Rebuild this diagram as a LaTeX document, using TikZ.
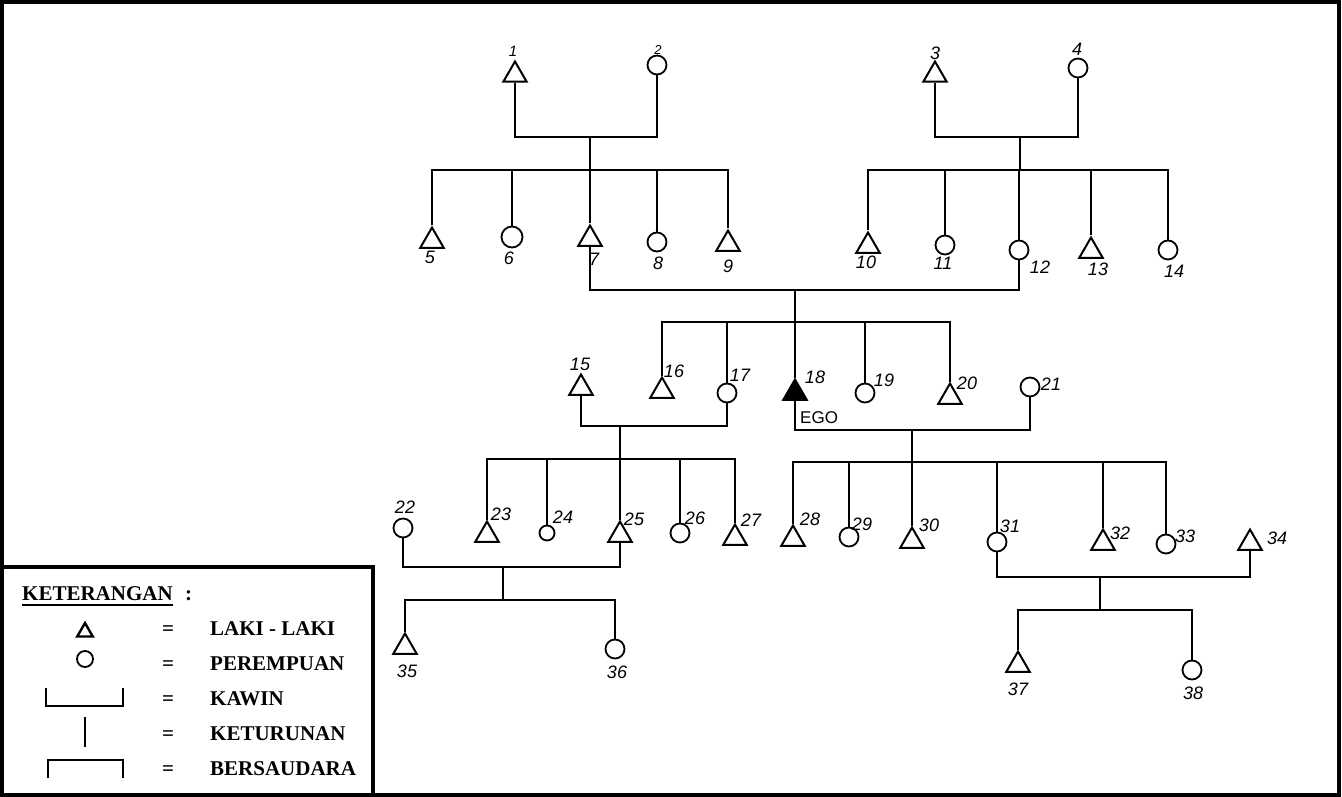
\documentclass[tikz,border=0pt]{standalone}
\usepackage{fontspec}
\setmainfont{Liberation Serif}
\newfontfamily\handfont{Liberation Sans}
\usetikzlibrary{shapes.geometric}
\begin{document}
\begin{tikzpicture}[x=1pt,y=-1pt,
  male/.style={draw, regular polygon, regular polygon sides=3, minimum size=27pt, inner sep=0pt, line width=2pt},
  female/.style={draw, circle, minimum size=19pt, inner sep=0pt, line width=1.8pt},
  ego/.style={male, fill=black},
  lbl/.style={font=\handfont\itshape\fontsize{18}{18}\selectfont, inner sep=0pt},
  link/.style={line width=1.7pt},
  frame/.style={line width=3.4pt},
  legtxt/.style={font=\bfseries\fontsize{21}{21}\selectfont, inner sep=0pt, anchor=base west},
  legeq/.style={font=\bfseries\fontsize{21}{21}\selectfont, inner sep=0pt},
  legsym/.style={line width=2pt}]
\useasboundingbox (0,0) rectangle (1342,797);
\fill[white] (0,0) rectangle (1342,797);
\draw[frame] (2,2) rectangle (1339,795);
% ---- persons ----
\node[male] (p1) at (515,75) {};
\node[female] (p2) at (657,65) {};
\node[male] (p3) at (935,75) {};
\node[female] (p4) at (1078,68) {};
\node[male] (p5) at (432,241) {};
\node[female, minimum size=21pt] (p6) at (512,237) {};
\node[male] (p7) at (590,239) {};
\node[female] (p8) at (657,242) {};
\node[male] (p9) at (728,244) {};
\node[male] (p10) at (868,246) {};
\node[female] (p11) at (945,245) {};
\node[female] (p12) at (1019,250) {};
\node[male] (p13) at (1091,251) {};
\node[female] (p14) at (1168,250) {};
\node[male] (p15) at (581,388) {};
\node[male] (p16) at (662,391) {};
\node[female] (p17) at (727,393) {};
\node[ego] (p18) at (795,393) {};
\node[female] (p19) at (865,393) {};
\node[male] (p20) at (950,397) {};
\node[female] (p21) at (1030,387) {};
\node[female] (p22) at (403,528) {};
\node[male] (p23) at (487,535) {};
\node[female, minimum size=15pt] (p24) at (547,533) {};
\node[male] (p25) at (620,535) {};
\node[female] (p26) at (680,533) {};
\node[male] (p27) at (735,538) {};
\node[male] (p28) at (793,539) {};
\node[female] (p29) at (849,537) {};
\node[male] (p30) at (912,541) {};
\node[female] (p31) at (997,542) {};
\node[male] (p32) at (1103,543) {};
\node[female] (p33) at (1166,544) {};
\node[male] (p34) at (1250,543) {};
\node[male] (p35) at (405,647) {};
\node[female] (p36) at (615,649) {};
\node[male] (p37) at (1018,665) {};
\node[female] (p38) at (1192,670) {};
% ---- labels ----
\node[lbl, font=\handfont\itshape\fontsize{15}{15}\selectfont] (l1) at (513,51) {1};
\node[lbl, font=\handfont\itshape\fontsize{13}{13}\selectfont] (l2) at (658,50) {2};
\node[lbl] (l3) at (935,53) {3};
\node[lbl] (l4) at (1077,49) {4};
\node[lbl] (l5) at (430,257) {5};
\node[lbl] (l6) at (509,258) {6};
\node[lbl] (l7) at (594,259) {7};
\node[lbl] (l8) at (658,263) {8};
\node[lbl] (l9) at (728,266) {9};
\node[lbl] (l10) at (866,262) {10};
\node[lbl] (l11) at (943,263) {11};
\node[lbl] (l12) at (1040,267) {12};
\node[lbl] (l13) at (1098,269) {13};
\node[lbl] (l14) at (1174,271) {14};
\node[lbl] (l15) at (580,364) {15};
\node[lbl] (l16) at (674,371) {16};
\node[lbl] (l17) at (740,375) {17};
\node[lbl] (l18) at (815,377) {18};
\node[lbl, font=\handfont\fontsize{17}{17}\selectfont, anchor=west] (lego) at (800,418) {EGO};
\node[lbl] (l19) at (884,380) {19};
\node[lbl] (l20) at (967,383) {20};
\node[lbl] (l21) at (1051,384) {21};
\node[lbl] (l22) at (405,507) {22};
\node[lbl] (l23) at (501,514) {23};
\node[lbl] (l24) at (563,517) {24};
\node[lbl] (l25) at (634,519) {25};
\node[lbl] (l26) at (695,518) {26};
\node[lbl] (l27) at (751,520) {27};
\node[lbl] (l28) at (810,519) {28};
\node[lbl] (l29) at (862,524) {29};
\node[lbl] (l30) at (929,525) {30};
\node[lbl] (l31) at (1010,526) {31};
\node[lbl] (l32) at (1120,533) {32};
\node[lbl] (l33) at (1185,536) {33};
\node[lbl] (l34) at (1277,538) {34};
\node[lbl] (l35) at (407,671) {35};
\node[lbl] (l36) at (617,672) {36};
\node[lbl] (l37) at (1018,689) {37};
\node[lbl] (l38) at (1193,693) {38};
% ---- junction coordinates ----
\coordinate (m12) at (590,137); \coordinate (s12) at (590,170);
\coordinate (m34) at (1020,137); \coordinate (s34) at (1020,170);
\coordinate (m712) at (795,290); \coordinate (s712) at (795,322);
\coordinate (m1517) at (620,426); \coordinate (s1517) at (620,459);
\coordinate (m1821) at (912,430); \coordinate (s1821) at (912,462);
\coordinate (m2225) at (503,567); \coordinate (s2225) at (503,600);
\coordinate (m3134) at (1100,577); \coordinate (s3134) at (1100,610);
% ---- marriages ----
\draw[link] (p1.south) |- (m12) -| (p2.south);
\draw[link] (p3.south) |- (m34) -| (p4.south);
\draw[link] (p7.south) |- (m712) -| (p12.south);
\draw[link] (p15.south) |- (m1517) -| (p17.south);
\draw[link] (p18.south) |- (m1821) -| (p21.south);
\draw[link] (p22.south) |- (m2225) -| (p25.south);
\draw[link] (p31.south) |- (m3134) -| (p34.south);
% ---- descent ----
\draw[link] (m12) -- (s12);
\draw[link] (m34) -- (s34);
\draw[link] (m712) -- (p18.north);
\draw[link] (m1517) -- (p25.north);
\draw[link] (m1821) -- (p30.north);
\draw[link] (m2225) -- (s2225);
\draw[link] (m3134) -- (s3134);
% ---- sibling bars ----
\draw[link] (p5.north) -- (p5.north |- s12) -- (p9.north |- s12) -- (p9.north);
\foreach \c in {p6,p7,p8} \draw[link] (\c.north) -- (\c.north |- s12);
\draw[link] (p10.north) -- (p10.north |- s34) -- (p14.north |- s34) -- (p14.north);
\foreach \c in {p11,p12,p13} \draw[link] (\c.north) -- (\c.north |- s34);
\draw[link] (p16.north) -- (p16.north |- s712) -- (p20.north |- s712) -- (p20.north);
\foreach \c in {p17,p19} \draw[link] (\c.north) -- (\c.north |- s712);
\draw[link] (p23.north) -- (p23.north |- s1517) -- (p27.north |- s1517) -- (p27.north);
\foreach \c in {p24,p26} \draw[link] (\c.north) -- (\c.north |- s1517);
\draw[link] (p28.north) -- (p28.north |- s1821) -- (p33.north |- s1821) -- (p33.north);
\foreach \c in {p29,p31,p32} \draw[link] (\c.north) -- (\c.north |- s1821);
\draw[link] (p35.north) -- (p35.north |- s2225) -- (p36.north |- s2225) -- (p36.north);
\draw[link] (p37.north) -- (p37.north |- s3134) -- (p38.north |- s3134) -- (p38.north);
% ---- legend ----
\draw[frame] (2,567) -- (373,567) -- (373,795);
\node[legtxt] (kt) at (22,600) {KETERANGAN};
\draw[line width=1.6pt] (kt.base west) ++(0,5) -- ++(151,0);
\node[legeq, anchor=base west] (kcolon) at (185,600) {:};
\node[draw, regular polygon, regular polygon sides=3, minimum size=18pt, inner sep=0pt, line width=2.4pt] (lgm) at (85,632) {};
\node[draw, circle, minimum size=16pt, inner sep=0pt, line width=1.8pt] (lgf) at (85,659) {};
\draw[legsym] (46,688) -- (46,706) -- (123,706) -- (123,688);
\draw[legsym] (85,717) -- (85,747);
\draw[legsym] (48,778) -- (48,760) -- (123,760) -- (123,778);
\node[legeq] (e1) at (168,631) {=};
\node[legeq] (e2) at (168,666) {=};
\node[legeq] (e3) at (168,701) {=};
\node[legeq] (e4) at (168,736) {=};
\node[legeq] (e5) at (168,771) {=};
\node[legtxt] (t1) at (210,635) {LAKI - LAKI};
\node[legtxt] (t2) at (210,670) {PEREMPUAN};
\node[legtxt] (t3) at (210,705) {KAWIN};
\node[legtxt] (t4) at (210,740) {KETURUNAN};
\node[legtxt] (t5) at (210,775) {BERSAUDARA};
\end{tikzpicture}
\end{document}
